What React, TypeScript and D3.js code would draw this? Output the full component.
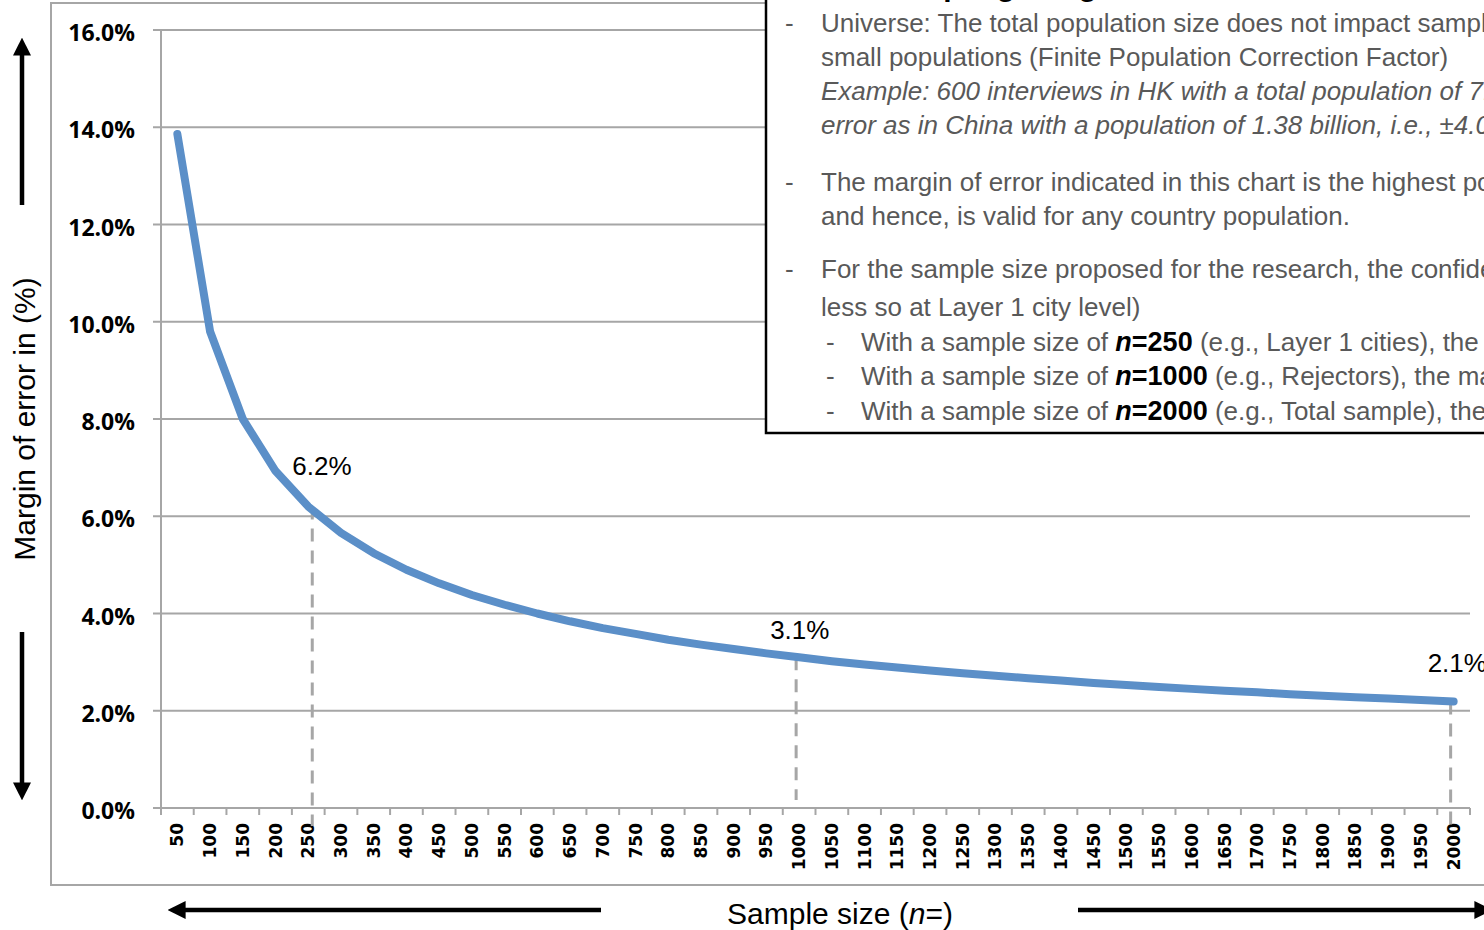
import * as d3 from "d3";

// sample sizes on the x axis (n=)
const sampleSizes = [
  50, 100, 150, 200, 250, 300, 350, 400, 450, 500, 550, 600, 650, 700, 750, 800,
  850, 900, 950, 1000, 1050, 1100, 1150, 1200, 1250, 1300, 1350, 1400, 1450, 1500,
  1550, 1600, 1650, 1700, 1750, 1800, 1850, 1900, 1950, 2000,
];

// margin of error in %
const marginOfError = [
  13.86, 9.8, 8.0, 6.93, 6.2, 5.66, 5.24, 4.9, 4.62, 4.38, 4.18, 4.0, 3.84, 3.7,
  3.58, 3.46, 3.36, 3.27, 3.18, 3.1, 3.02, 2.95, 2.89, 2.83, 2.77, 2.72, 2.67,
  2.62, 2.57, 2.53, 2.49, 2.45, 2.41, 2.38, 2.34, 2.31, 2.28, 2.25, 2.22, 2.19,
];

const yTicks = [0, 2, 4, 6, 8, 10, 12, 14, 16];

// highlighted sample sizes with their labels
const calloutSizes = [250, 1000, 2000];
const calloutLabels = ["6.2%", "3.1%", "2.1%"];

const W = 1484;
const H = 930;
const plot = { left: 161, right: 1470, top: 30, bottom: 808 };

const GRAY_TEXT = "#595959";
const GRID = "#a6a6a6";
const LINE_BLUE = "#5b8fc8";

const App = () => {
  const x = d3
    .scaleBand<number>()
    .domain(sampleSizes)
    .range([plot.left, plot.right])
    .padding(0);
  const y = d3.scaleLinear().domain([0, 16]).range([plot.bottom, plot.top]);
  const cx = (n: number) => (x(n) ?? 0) + x.bandwidth() / 2;

  const pts = sampleSizes.map((n, i) => ({ n, v: marginOfError[i] }));
  const line = d3
    .line<{ n: number; v: number }>()
    .x((d) => cx(d.n))
    .y((d) => y(d.v));

  const boundaries = [...sampleSizes.map((n) => x(n) ?? 0), plot.right];
  const labelOffsets = [
    { dx: -16, dy: -32 },
    { dx: -29, dy: -18 },
    { dx: -26, dy: -30 },
  ];
  // drop lines sit a little off the band centre in the original
  const dropShift = [4, -3, -3];
  const dropEnd = [826, 800, 826];

  const boxFont = "'Liberation Sans', Arial, sans-serif";
  const boxSize = 26;
  const lineY = [32, 66, 100, 134, 191, 225, 278, 316, 351, 385, 420];

  const nPart = (num: string) => (
    <>
      <tspan fill="#000" fontWeight="bold" fontStyle="italic" fontSize={27}>
        n
      </tspan>
      <tspan fill="#000" fontWeight="bold" fontSize={27}>
        ={num}
      </tspan>
    </>
  );

  return (
    <svg
      width={W}
      height={H}
      style={{ position: "absolute", left: 0, top: 0, display: "block", background: "#fff" }}
    >
      {/* outer chart frame */}
      <rect x={51} y={3} width={W} height={882} fill="none" stroke={GRID} strokeWidth={2} />

      {/* gridlines */}
      {yTicks.map((t) => (
        <g key={t}>
          <line x1={plot.left - 8} x2={plot.right} y1={y(t)} y2={y(t)} stroke={GRID} strokeWidth={2} />
          <text
            x={135}
            y={y(t) + 11}
            textAnchor="end"
            fontFamily="'Open Sans', sans-serif"
            fontWeight="bold"
            fontSize={23}
            fill="#000"
          >
            {t.toFixed(1)}%
          </text>
        </g>
      ))}
      <line x1={plot.left} x2={plot.left} y1={plot.top} y2={plot.bottom} stroke={GRID} strokeWidth={2} />

      {/* x ticks and labels */}
      {boundaries.map((b, i) => (
        <line key={i} x1={b} x2={b} y1={plot.bottom} y2={plot.bottom + 7} stroke={GRID} strokeWidth={2} />
      ))}
      {sampleSizes.map((n) => (
        <text
          key={n}
          transform={`translate(${cx(n)},${plot.bottom + 15}) rotate(-90)`}
          textAnchor="end"
          dominantBaseline="central"
          fontFamily="'DejaVu Sans', sans-serif"
          fontWeight="bold"
          fontSize={17}
          fill="#000"
        >
          {n}
        </text>
      ))}

      {/* dashed drop lines */}
      {calloutSizes.map((n, i) => (
        <line
          key={n}
          x1={cx(n) + dropShift[i]}
          x2={cx(n) + dropShift[i]}
          y1={y(marginOfError[sampleSizes.indexOf(n)])}
          y2={dropEnd[i]}
          stroke={GRID}
          strokeWidth={3}
          strokeDasharray="13,9"
        />
      ))}

      {/* curve */}
      <path
        d={line(pts) ?? ""}
        fill="none"
        stroke={LINE_BLUE}
        strokeWidth={8}
        strokeLinecap="round"
        strokeLinejoin="round"
      />

      {/* callout labels */}
      {calloutSizes.map((n, i) => (
        <text
          key={n}
          x={cx(n) + labelOffsets[i].dx}
          y={y(marginOfError[sampleSizes.indexOf(n)]) + labelOffsets[i].dy}
          fontFamily="'Liberation Sans', Arial, sans-serif"
          fontSize={26}
          fill="#000"
        >
          {calloutLabels[i]}
        </text>
      ))}

      {/* axis titles */}
      <text
        transform="translate(35,419) rotate(-90)"
        textAnchor="middle"
        fontFamily="'Liberation Sans', Arial, sans-serif"
        fontSize={30}
        fill="#000"
      >
        Margin of error in (%)
      </text>
      <text
        x={840}
        y={924}
        textAnchor="middle"
        fontFamily="'Liberation Sans', Arial, sans-serif"
        fontSize={30}
        fill="#000"
      >
        Sample size (<tspan fontStyle="italic">n</tspan>=)
      </text>

      {/* direction arrows */}
      <defs>
        <marker id="arr" viewBox="0 0 10 10" refX="2" refY="5" markerWidth="4" markerHeight="4" orient="auto">
          <path d="M0,0 L10,5 L0,10 z" fill="#000" />
        </marker>
      </defs>
      <line x1={22} x2={22} y1={205} y2={52} stroke="#000" strokeWidth={4.5} markerEnd="url(#arr)" />
      <line x1={22} x2={22} y1={632} y2={786} stroke="#000" strokeWidth={4.5} markerEnd="url(#arr)" />
      <line x1={601} x2={182} y1={910} y2={910} stroke="#000" strokeWidth={4.5} markerEnd="url(#arr)" />
      <line x1={1078} x2={1478} y1={910} y2={910} stroke="#000" strokeWidth={4.5} markerEnd="url(#arr)" />

      {/* notes box */}
      <rect x={766} y={-10} width={W} height={443} fill="#fff" stroke="#000" strokeWidth={2.5} />
      <text x={880} y={-4} fontFamily={boxFont} fontWeight="bold" fontSize={30} fill="#000">
        Sampling margin of error
      </text>
      <g fontFamily={boxFont} fontSize={boxSize} fill={GRAY_TEXT}>
        {[0, 4, 6].map((i) => (
          <text key={i} x={785} y={lineY[i]}>-</text>
        ))}
        {[8, 9, 10].map((i) => (
          <text key={i} x={826} y={lineY[i]}>-</text>
        ))}
        <text x={821} y={lineY[0]}>
          Universe: The total population size does not impact sample size, except for very
        </text>
        <text x={821} y={lineY[1]}>
          small populations (Finite Population Correction Factor)
        </text>
        <text x={821} y={lineY[2]} fontStyle="italic">
          Example: 600 interviews in HK with a total population of 7.3 million give the same
        </text>
        <text x={821} y={lineY[3]} fontStyle="italic">
          error as in China with a population of 1.38 billion, i.e., ±4.0%
        </text>
        <text x={821} y={lineY[4]}>
          The margin of error indicated in this chart is the highest possible
        </text>
        <text x={821} y={lineY[5]}>and hence, is valid for any country population.</text>
        <text x={821} y={lineY[6]}>
          For the sample size proposed for the research, the confidence level is high
        </text>
        <text x={821} y={lineY[7]}>less so at Layer 1 city level)</text>
        <text x={861} y={lineY[8]}>
          With a sample size of {nPart("250")} (e.g., Layer 1 cities), the margin of error is 6.2%
        </text>
        <text x={861} y={lineY[9]}>
          With a sample size of {nPart("1000")} (e.g., Rejectors), the margin of error is 3.1%
        </text>
        <text x={861} y={lineY[10]}>
          With a sample size of {nPart("2000")} (e.g., Total sample), the margin of error is 2.1%
        </text>
      </g>
    </svg>
  );
};

export default App;
